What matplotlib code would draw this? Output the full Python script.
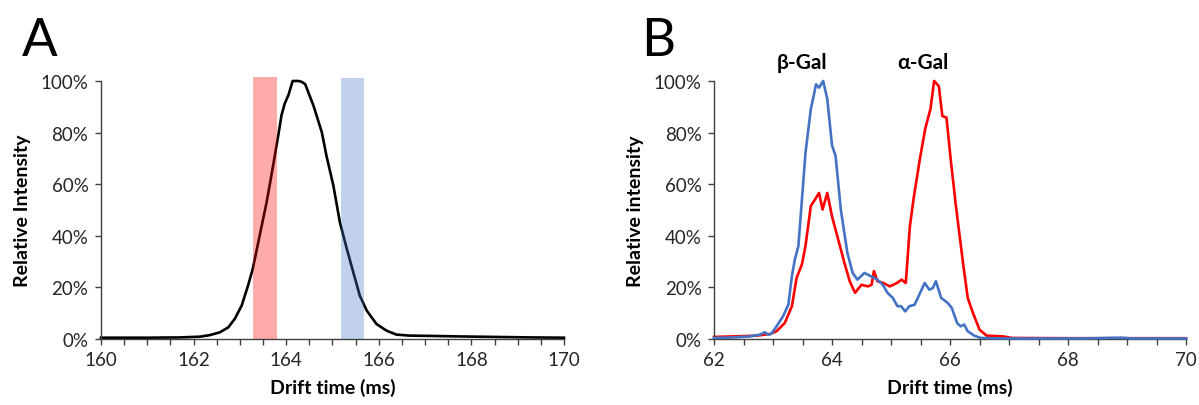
import numpy as np
import matplotlib
matplotlib.use("Agg")
import matplotlib.pyplot as plt
from matplotlib.ticker import MultipleLocator, PercentFormatter

plt.rcParams['font.family'] = ['Lato', 'DejaVu Sans']

# panel A: drift time profile of the mixture (ms, relative intensity)
a_time = [160.0, 161.0, 161.71, 162.14, 162.35, 162.57, 162.75, 162.89, 163.04,
          163.18, 163.28, 163.43, 163.58, 163.72, 163.83, 163.9, 163.97, 164.05,
          164.14, 164.26, 164.33, 164.41, 164.59, 164.77, 164.87, 165.02, 165.16,
          165.31, 165.45, 165.59, 165.74, 165.95, 166.17, 166.38, 166.67, 167.1,
          167.7, 168.5, 169.3, 170.0]
a_int = [0.005, 0.005, 0.006, 0.009, 0.015, 0.026, 0.045, 0.078, 0.13,
         0.209, 0.273, 0.403, 0.532, 0.674, 0.79, 0.868, 0.913, 0.946,
         1.0, 1.0, 0.997, 0.988, 0.904, 0.801, 0.71, 0.594, 0.452,
         0.349, 0.258, 0.168, 0.11, 0.058, 0.032, 0.017, 0.013, 0.012,
         0.01, 0.008, 0.006, 0.005]
# selected drift time windows
red_window = (163.28, 163.80)
blue_window = (165.18, 165.68)

# panel B: arrival time distributions
b_blue_t = [62.0, 62.33, 62.61, 62.78, 62.86, 62.92, 62.97, 63.06, 63.17, 63.26,
            63.32, 63.37, 63.43, 63.49, 63.55, 63.64, 63.73, 63.78, 63.85, 63.92,
            64.0, 64.06, 64.15, 64.26, 64.35, 64.43, 64.55, 64.66, 64.77, 64.86,
            64.94, 65.03, 65.11, 65.17, 65.24, 65.31, 65.4, 65.48, 65.57, 65.65,
            65.71, 65.76, 65.85, 65.96, 66.03, 66.12, 66.18, 66.24, 66.3, 66.41,
            66.52, 66.88, 67.5, 68.2, 68.9, 69.1, 70.0]
b_blue = [0.004, 0.006, 0.01, 0.017, 0.026, 0.017, 0.02, 0.049, 0.088, 0.133,
          0.243, 0.308, 0.36, 0.54, 0.72, 0.89, 0.987, 0.974, 1.0, 0.93,
          0.75, 0.71, 0.5, 0.334, 0.256, 0.23, 0.256, 0.243, 0.23, 0.21,
          0.179, 0.159, 0.127, 0.127, 0.107, 0.127, 0.133, 0.172, 0.217, 0.191,
          0.198, 0.224, 0.159, 0.14, 0.12, 0.062, 0.049, 0.056, 0.03, 0.013,
          0.004, 0.002, 0.002, 0.002, 0.005, 0.002, 0.002]
b_red_t = [62.0, 62.33, 62.73, 62.96, 63.06, 63.2, 63.32, 63.4, 63.49, 63.55,
           63.64, 63.71, 63.78, 63.84, 63.92, 64.0, 64.09, 64.21, 64.3, 64.39,
           64.5, 64.61, 64.67, 64.71, 64.77, 64.87, 64.98, 65.1, 65.18, 65.25,
           65.32, 65.38, 65.49, 65.58, 65.67, 65.73, 65.81, 65.87, 65.94, 66.01,
           66.1, 66.22, 66.3, 66.39, 66.5, 66.62, 66.9, 67.05, 68.0, 69.0, 70.0]
b_red = [0.008, 0.01, 0.013, 0.02, 0.03, 0.062, 0.127, 0.237, 0.289, 0.36,
         0.515, 0.54, 0.566, 0.502, 0.566, 0.475, 0.398, 0.295, 0.224, 0.179,
         0.21, 0.204, 0.21, 0.263, 0.224, 0.217, 0.204, 0.217, 0.23, 0.217,
         0.437, 0.54, 0.699, 0.815, 0.893, 1.0, 0.98, 0.864, 0.858, 0.699,
         0.515, 0.295, 0.159, 0.1, 0.036, 0.013, 0.01, 0.004, 0.003, 0.003, 0.003]

tick_col = '#262626'


def style_axes(ax, xlim, ylabel):
    ax.set_xlim(*xlim)
    ax.set_ylim(0, 1)
    for s in ['top', 'right']:
        ax.spines[s].set_visible(False)
    for s in ['left', 'bottom']:
        ax.spines[s].set_color('#404040')
        ax.spines[s].set_linewidth(1.0)
    ax.xaxis.set_major_locator(MultipleLocator(2))
    ax.xaxis.set_minor_locator(MultipleLocator(0.5))
    ax.yaxis.set_major_locator(MultipleLocator(0.2))
    ax.yaxis.set_major_formatter(PercentFormatter(1.0, decimals=0))
    ax.tick_params(axis='both', which='both', direction='out', length=4,
                   width=1.0, color='#404040', labelsize=13.5,
                   labelcolor=tick_col, pad=5)
    ax.set_xlabel('Drift time (ms)', fontsize=14, fontweight='bold', labelpad=7)
    ax.set_ylabel(ylabel, fontsize=14, fontweight='bold', labelpad=7)


fig = plt.figure(figsize=(11.99, 4.06), dpi=100)
ax_a = fig.add_axes([0.0842, 0.1626, 0.3862, 0.6355])
ax_b = fig.add_axes([0.5955, 0.1626, 0.3937, 0.6355])

# panel A
ax_a.plot(a_time, a_int, color='black', lw=1.9, clip_on=False, zorder=2)
ax_a.fill_between(red_window, 0, 1.017, color='red', alpha=0.33, lw=0,
                  clip_on=False, zorder=3)
ax_a.fill_between(blue_window, 0, 1.01, color='#4472C4', alpha=0.33, lw=0,
                  clip_on=False, zorder=3)
style_axes(ax_a, (160, 170), 'Relative Intensity')

# panel B
ax_b.plot(b_red_t, b_red, color='#FF0000', lw=1.9, clip_on=False, zorder=2)
ax_b.plot(b_blue_t, b_blue, color='#4472C4', lw=1.9, clip_on=False, zorder=3)
style_axes(ax_b, (62, 70), 'Relative intensity')
ax_b.text(63.49, 1.074, 'β-Gal', ha='center', va='center', fontsize=15,
          fontweight='bold')
ax_b.text(65.54, 1.074, 'α-Gal', ha='center', va='center', fontsize=15,
          fontweight='bold')

fig.text(40 / 1199, 1 - 41 / 406, 'A', fontsize=38, ha='center', va='center')
fig.text(658 / 1199, 1 - 41 / 406, 'B', fontsize=38, ha='center', va='center')

fig.savefig('out.png', dpi=100)
